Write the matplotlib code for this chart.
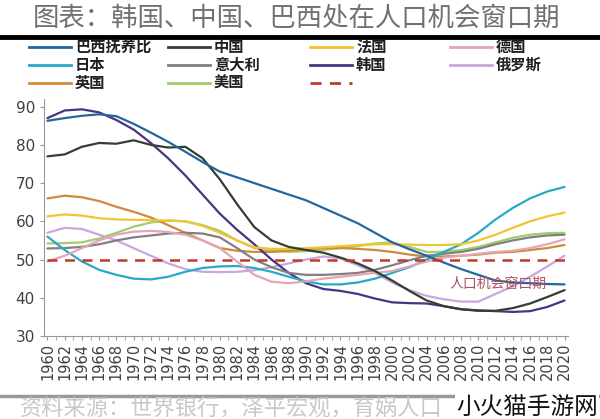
import matplotlib
matplotlib.use('Agg')
import matplotlib.pyplot as plt
from matplotlib.lines import Line2D

plt.rcParams['font.family'] = ['Noto Sans CJK SC', 'DejaVu Sans']

# data, every 2 years
years = list(range(1960, 2021, 2))
brazil = [86.3, 87.0, 87.6, 88.0, 87.5, 85.5, 83.2, 80.8, 78.2, 75.5, 73.0, 71.5, 70.0, 68.5, 67.0, 65.5,
          63.5, 61.5, 59.5, 57.0, 54.5, 52.7, 51.0, 49.2, 47.5, 46.0, 44.5, 44.0, 43.8, 43.6, 43.5]
china = [77.0, 77.5, 79.5, 80.5, 80.3, 81.2, 80.0, 79.3, 79.5, 76.5, 71.0, 64.5, 58.5, 55.0, 53.3, 52.5,
         51.8, 50.5, 49.0, 47.0, 44.5, 41.8, 39.3, 37.8, 37.0, 36.6, 36.6, 37.3, 38.5, 40.2, 42.0]
france = [61.3, 61.8, 61.5, 60.8, 60.5, 60.4, 60.3, 60.2, 60.0, 58.8, 57.0, 55.0, 53.2, 52.8, 52.8, 53.0,
          53.2, 53.5, 53.8, 54.0, 54.0, 53.9, 53.8, 53.8, 54.0, 55.0, 56.5, 58.3, 60.0, 61.3, 62.3]
germany = [49.5, 51.0, 53.0, 55.0, 56.5, 57.3, 57.5, 57.2, 56.5, 55.0, 53.0, 49.5, 46.0, 44.2, 43.8, 44.3,
           45.0, 45.5, 46.0, 46.5, 47.0, 48.2, 49.5, 50.5, 51.0, 51.5, 52.0, 52.3, 53.0, 54.0, 55.3]
japan = [56.0, 52.5, 49.5, 47.3, 46.0, 45.0, 44.8, 45.5, 46.8, 47.8, 48.2, 48.3, 47.8, 46.8, 45.5, 44.3,
         43.5, 43.5, 44.0, 45.0, 46.5, 48.0, 50.0, 52.0, 54.0, 57.0, 60.5, 63.5, 66.0, 67.8, 69.0]
italy = [52.9, 53.0, 53.3, 54.0, 55.0, 55.8, 56.3, 56.8, 57.0, 56.8, 55.8, 53.0, 50.0, 48.0, 46.5, 46.0,
         46.0, 46.2, 46.5, 47.3, 48.5, 49.8, 51.0, 51.5, 52.0, 52.8, 54.0, 55.0, 55.8, 56.3, 56.5]
korea = [87.0, 89.0, 89.3, 88.5, 86.5, 84.0, 80.5, 76.5, 72.0, 67.0, 62.0, 57.8, 54.0, 50.0, 46.5, 43.8,
         42.3, 41.8, 41.0, 39.8, 38.8, 38.6, 38.5, 37.8, 37.0, 36.7, 36.5, 36.3, 36.5, 37.6, 39.3]
russia = [57.0, 58.3, 58.0, 56.5, 55.0, 53.0, 51.0, 49.0, 47.5, 46.8, 46.7, 46.8, 47.2, 48.0, 49.0, 50.0,
          50.8, 50.3, 48.5, 46.5, 44.0, 42.0, 40.5, 39.6, 39.0, 39.0, 41.0, 43.0, 45.5, 48.2, 51.0]
uk = [66.0, 66.7, 66.3, 65.3, 63.8, 62.5, 61.0, 59.0, 57.0, 55.0, 53.0, 52.3, 52.0, 52.0, 52.3, 52.7,
      53.0, 53.0, 52.8, 52.5, 52.0, 51.3, 50.8, 50.8, 51.0, 51.3, 51.8, 52.0, 52.5, 53.0, 53.8]
usa = [54.2, 54.3, 54.5, 55.5, 57.0, 58.6, 59.7, 60.2, 60.0, 59.0, 57.5, 55.0, 53.0, 52.3, 52.0, 52.2,
       52.5, 53.0, 53.5, 54.2, 54.5, 53.3, 52.0, 52.0, 52.5, 53.3, 54.5, 55.7, 56.5, 56.9, 57.0]
window_level = 50

series = [
    ('巴西抚养比', brazil, '#22679e'),
    ('中国', china, '#33402f'),
    ('法国', france, '#f2c431'),
    ('德国', germany, '#e3a6b4'),
    ('日本', japan, '#27a9c9'),
    ('意大利', italy, '#808080'),
    ('韩国', korea, '#4a3285'),
    ('俄罗斯', russia, '#c9a6e0'),
    ('英国', uk, '#d08a3c'),
    ('美国', usa, '#a3cc6e'),
]
RED = '#c0392b'

W, H = 600, 419
fig = plt.figure(figsize=(W / 100, H / 100), dpi=100)
ax = fig.add_axes([44 / W, 1 - 336 / H, (568 - 44) / W, (336 - 99) / H])

# draw in reverse so the first series sit on top
for name, vals, col in series[::-1]:
    ax.plot(years, vals, color=col, lw=1.6, solid_joinstyle='round', solid_capstyle='round')
ax.plot([years[0], years[-1]], [window_level, window_level], color=RED, lw=1.8, ls=(0, (4, 3)))

ax.text(2012.3, 43.7, '人口机会窗口期', color='#b0505a', fontsize=10, ha='center', va='center')

ax.set_xlim(1959.6, 2020.4)
ax.set_ylim(30, 92)
ax.set_yticks(range(30, 91, 10))
ax.set_xticks(range(1960, 2021, 2))
ax.set_xticks(range(1960, 2021, 1), minor=True)
ax.set_xticklabels([str(y) for y in range(1960, 2021, 2)], rotation=90, fontsize=10.5,
                   family='DejaVu Sans', color='#404040')
for lab in ax.get_yticklabels():
    lab.set_family('DejaVu Sans')
ax.tick_params(axis='y', labelsize=11, colors='#404040', length=3, color='#999999')
ax.tick_params(axis='x', which='both', length=3, color='#999999', pad=2)
for s in ['top', 'right']:
    ax.spines[s].set_visible(False)
for s in ['left', 'bottom']:
    ax.spines[s].set_color('#999999')

# title and rules
fig.text(0.495, 1 - 18 / H, '图表：韩国、中国、巴西处在人口机会窗口期', ha='center', va='center',
         fontsize=19, color='#707070', fontweight='light')
fig.add_artist(Line2D([0, 1], [1 - 37 / H, 1 - 37 / H], color='black', lw=3.5))
fig.add_artist(Line2D([0, 1], [1 - 396 / H, 1 - 396 / H], color='#999999', lw=2.5))

# legend drawn by hand to keep the row-wise layout
col_x = [29, 168, 310, 450]
row_y = [47, 65, 83]
entries = [(n, c, '-') for n, v, c in series] + [('', RED, '--')]
for i, (name, col, ls) in enumerate(entries):
    x0 = col_x[i % 4]
    y0 = 1 - row_y[i // 4] / H
    fig.add_artist(Line2D([x0 / W, (x0 + 42) / W], [y0, y0], color=col, lw=2,
                          ls=(0, (4, 3)) if ls == '--' else '-'))
    if name:
        fig.text((x0 + 46) / W, y0, name, ha='left', va='center', fontsize=11,
                 fontweight='bold', color='#202020')

fig.text(20 / W, 1 - 409 / H, '资料来源：世界银行，泽平宏观，育娲人口', ha='left', va='center',
         fontsize=16, color='#c8c8c8', fontweight='light')
fig.text(598 / W, 1 - 407 / H, '小火猫手游网', ha='right', va='center', fontsize=17,
         color='#111111', bbox=dict(facecolor='white', edgecolor='none', pad=1))

fig.savefig('out.png', dpi=100, facecolor='white')
